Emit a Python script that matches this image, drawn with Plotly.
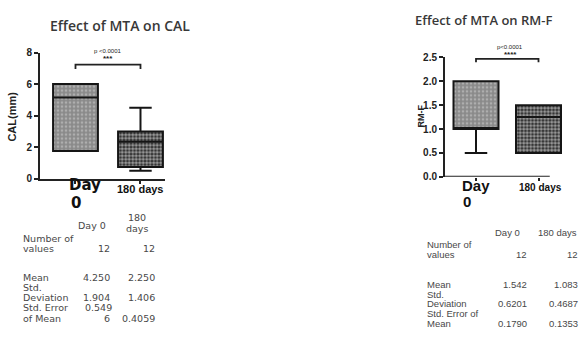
import plotly.graph_objects as go

W, H = 583, 338

# ---------------- data ----------------
groups = ["Day 0", "180 days"]

cal_q1 = [1.75, 0.75]
cal_median = [5.15, 2.35]
cal_q3 = [6.0, 3.0]
cal_low = [1.75, 0.5]
cal_high = [6.0, 4.5]
cal_ticks = [0, 2, 4, 6, 8]

rmf_q1 = [1.0, 0.5]
rmf_median = [1.0, 1.25]
rmf_q3 = [2.0, 1.5]
rmf_low = [0.5, 0.5]
rmf_high = [2.0, 1.5]
rmf_ticks = [0.0, 0.5, 1.0, 1.5, 2.0, 2.5]

cal_n = ["12", "12"]
cal_mean = ["4.250", "2.250"]
cal_sd = ["1.904", "1.406"]
cal_sem = ["0.5496", "0.4059"]

rmf_n = ["12", "12"]
rmf_mean = ["1.542", "1.083"]
rmf_sd = ["0.6201", "0.4687"]
rmf_sem = ["0.1790", "0.1353"]

cal_p = "p <0.0001"
cal_stars = "***"
rmf_p = "p<0.0001"
rmf_stars = "****"


def px(x):
    return x / W


def py(y):
    return 1 - y / H


fig = go.Figure()
pos = [0, 1]

patterns = [
    dict(shape=".", bgcolor="#8a8a8a", fgcolor="#d2d2d2", size=4, solidity=0.35),
    dict(shape=".", bgcolor="#2a2a2a", fgcolor="#ffffff", size=3.5, solidity=0.62),
]

for (q1, med, q3, lo, hi, xa, ya, w) in [
    (cal_q1, cal_median, cal_q3, cal_low, cal_high, "x", "y", 0.69),
    (rmf_q1, rmf_median, rmf_q3, rmf_low, rmf_high, "x2", "y2", 0.72),
]:
    for i in range(2):
        fig.add_trace(go.Bar(
            x=[pos[i]], y=[q3[i] - q1[i]], base=[q1[i]], width=w,
            marker=dict(color=patterns[i]["bgcolor"], pattern=patterns[i],
                        line=dict(width=0)),
            xaxis=xa, yaxis=ya, hoverinfo="skip", showlegend=False))
    fig.add_trace(go.Box(
        x=pos, q1=q1, median=med, q3=q3, lowerfence=lo, upperfence=hi,
        width=w, whiskerwidth=0.5, fillcolor="rgba(0,0,0,0)",
        line=dict(color="#151515", width=2), boxpoints=False,
        xaxis=xa, yaxis=ya, hoverinfo="skip", showlegend=False))

axis_common = dict(showgrid=False, zeroline=False, showline=True,
                   linecolor="#222", linewidth=2, ticks="outside",
                   tickcolor="#222", tickwidth=1.5, fixedrange=True)

fig.update_layout(
    xaxis=dict(domain=[px(40), px(165)], range=[-0.546, 1.377],
               tickvals=pos, showticklabels=False, ticklen=3,
               anchor="y", **axis_common),
    yaxis=dict(domain=[py(179), py(49)], range=[0, 8], tickvals=cal_ticks,
               ticklen=4, tickfont=dict(family="Liberation Sans", size=10,
                                        color="#222", weight="bold"),
               anchor="x", **axis_common),
    xaxis2=dict(domain=[px(445), px(563.5)], range=[-0.496, 1.4],
                tickvals=pos, showticklabels=False, ticklen=3,
                anchor="y2", **{**axis_common, "showline": False}),
    yaxis2=dict(domain=[py(177), py(54)], range=[0, 2.5], tickvals=rmf_ticks,
                tickformat=".1f", ticklen=4,
                tickfont=dict(family="Liberation Sans", size=10, color="#222",
                              weight="bold"),
                anchor="x2", **axis_common),
)

shapes = []
# shortened x axis line for the right chart
shapes.append(dict(type="line", xref="x2", yref="y2", x0=-0.496, x1=1.18,
                   y0=0, y1=0, line=dict(color="#222", width=2)))
# significance brackets
shapes.append(dict(type="path", xref="x", yref="y",
                   path="M 0,6.95 L 0,7.24 L 1,7.24 L 1,6.95",
                   line=dict(color="#222", width=1.8)))
shapes.append(dict(type="path", xref="x2", yref="y2",
                   path="M 0,2.40 L 0,2.47 L 1,2.47 L 1,2.40",
                   line=dict(color="#222", width=1.8)))

ann = []


def txt(x, y, s, size=9.5, family="DejaVu Sans", color="#484848", xanchor="center",
        bold=False, weight=None, angle=0):
    ann.append(dict(x=px(x), y=py(y), xref="paper",
                    yref="paper", text=s, showarrow=False, xanchor=xanchor,
                    yanchor="middle", textangle=angle,
                    font=dict(family=family, size=size, color=color,
                              weight=weight if weight else ("bold" if bold else "normal"))))


# titles
txt(120, 21, "Effect of MTA on CAL", size=14, family="Open Sans", color="#383838", weight=600)
txt(483, 15, "Effect of MTA on RM-F", size=13, family="Open Sans", color="#383838", weight=600)

# y labels
txt(12, 115, "CAL(mm)", size=11, family="Liberation Sans", color="#222", bold=True, angle=-90)
txt(421, 115, "RM-F", size=9, family="Liberation Sans", color="#222", bold=True, angle=-90)

# p values
txt(108, 47, cal_p, size=6, family="Liberation Sans", color="#222")
txt(108, 55, cal_stars, size=8, family="Liberation Sans", color="#222", bold=True)
txt(510, 43, rmf_p, size=6, family="Liberation Sans", color="#222")
txt(510, 51, rmf_stars, size=8, family="Liberation Sans", color="#222", bold=True)

# category labels
w0 = groups[0].split()
txt(85, 186, w0[0], size=15, family="DejaVu Sans", color="#111", bold=True)
txt(76, 204, w0[1], size=15, family="DejaVu Sans", color="#111", bold=True)
txt(140, 190, groups[1], size=11, family="Liberation Sans", color="#111", bold=True)
txt(476, 186, w0[0], size=15, family="Liberation Sans", color="#111", bold=True)
txt(467, 203, w0[1], size=15, family="Liberation Sans", color="#111", bold=True)
txt(540, 188, groups[1], size=10, family="Liberation Sans", color="#111", bold=True)

# left table
g1 = groups[1].split()
txt(92, 227, groups[0])
txt(137, 219, g1[0])
txt(137, 230, g1[1])
txt(21, 241, "Number of", xanchor="left")
txt(21, 251, "values", xanchor="left")
txt(112, 251, cal_n[0], xanchor="right")
txt(157, 251, cal_n[1], xanchor="right")
txt(21, 281, "Mean", xanchor="left")
txt(112, 281, cal_mean[0], xanchor="right")
txt(157, 281, cal_mean[1], xanchor="right")
txt(21, 291, "Std.", xanchor="left")
txt(21, 301, "Deviation", xanchor="left")
txt(112, 301, cal_sd[0], xanchor="right")
txt(157, 301, cal_sd[1], xanchor="right")
txt(21, 312, "Std. Error", xanchor="left")
txt(83, 312, cal_sem[0][:5], xanchor="left")
txt(21, 323, "of Mean", xanchor="left")
txt(112, 323, cal_sem[0][5:], xanchor="right")
txt(157, 323, cal_sem[1], xanchor="right")

# right table
tf = dict(size=9.5, family="Liberation Sans")
txt(522, 234, groups[0], xanchor="right", **tf)
txt(579, 234, groups[1], xanchor="right", **tf)
txt(425, 247, "Number of", xanchor="left", **tf)
txt(425, 257, "values", xanchor="left", **tf)
txt(529, 257, rmf_n[0], xanchor="right", **tf)
txt(580, 257, rmf_n[1], xanchor="right", **tf)
txt(425, 288, "Mean", xanchor="left", **tf)
txt(529, 288, rmf_mean[0], xanchor="right", **tf)
txt(580, 288, rmf_mean[1], xanchor="right", **tf)
txt(425, 298, "Std.", xanchor="left", **tf)
txt(425, 308, "Deviation", xanchor="left", **tf)
txt(529, 308, rmf_sd[0], xanchor="right", **tf)
txt(580, 308, rmf_sd[1], xanchor="right", **tf)
txt(425, 318, "Std. Error of", xanchor="left", **tf)
txt(425, 328, "Mean", xanchor="left", **tf)
txt(529, 328, rmf_sem[0], xanchor="right", **tf)
txt(580, 328, rmf_sem[1], xanchor="right", **tf)

fig.update_layout(
    width=W, height=H, margin=dict(l=0, r=0, t=0, b=0),
    paper_bgcolor="white", plot_bgcolor="white",
    barmode="overlay", boxmode="overlay", showlegend=False,
    shapes=shapes, annotations=ann,
)

fig.write_html("out.html", config={"displayModeBar": False},
               post_script="document.body.style.margin='0px';"
                           "document.body.style.overflow='hidden';")
